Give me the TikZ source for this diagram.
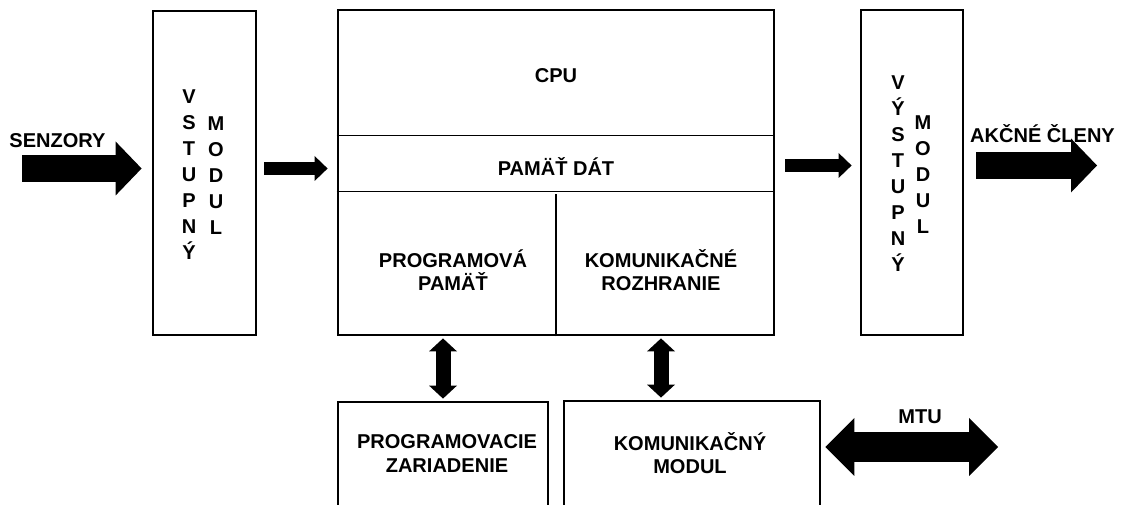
\documentclass[tikz,border=0pt]{standalone}
\usepackage{fontspec}
\setmainfont{Liberation Sans}
\usetikzlibrary{arrows.meta}

\tikzset{
  blok/.style={draw, line width=1.6pt, inner sep=0pt},
  popis/.style={font=\bfseries\fontsize{11.4}{13.1}\selectfont, align=center, inner sep=0pt},
  stlpec/.style={font=\bfseries\fontsize{11.4}{14.8}\selectfont, align=center, inner sep=0pt},
  tenka/.style={line width=0.6pt},
  velka/.style={line width=5.3mm, -{Triangle[length=5.2mm, width=10.8mm, line width=0pt]}},
  mala/.style={line width=2.6mm, -{Triangle[length=2.6mm, width=5mm, line width=0pt]}},
  obojsmerna/.style={line width=3mm, {Triangle[length=2.6mm, width=5.6mm, line width=0pt]}-{Triangle[length=2.6mm, width=5.6mm, line width=0pt]}},
  siroka/.style={line width=6mm, {Triangle[length=5.8mm, width=11.6mm, line width=0pt]}-{Triangle[length=5.8mm, width=11.6mm, line width=0pt]}}
}

\begin{document}
\begin{tikzpicture}
  \useasboundingbox (0, 0) rectangle (22.5, 10.08);
  \node[blok, minimum width=2.06cm, minimum height=6.48cm] (vstup) at (4.09, 6.62) {};
  \node[blok, minimum width=8.72cm, minimum height=6.5cm] (cpu) at (11.12, 6.63) {};
  \node[blok, minimum width=2.04cm, minimum height=6.5cm] (vystup) at (18.24, 6.63) {};
  \node[blok, minimum width=4.2cm, minimum height=2.6cm] (prog) at (8.86, 0.74) {};
  \node[blok, minimum width=5.12cm, minimum height=2.6cm] (kom) at (13.84, 0.76) {};
  \draw[tenka] ([yshift=-2.54cm]cpu.north west) -- ([yshift=-2.54cm]cpu.north east);
  \draw[tenka] ([yshift=-3.66cm]cpu.north west) -- ([yshift=-3.66cm]cpu.north east);
  \draw[tenka] (cpu.south) -- ([yshift=2.84cm]cpu.south);

  \node[stlpec] (vstup1) at (3.78, 6.58) {V\\S\\T\\U\\P\\N\\Ý};
  \node[stlpec] (vstup2) at (4.32, 6.56) {M\\O\\D\\U\\L};
  \node[stlpec] (vystup1) at (17.96, 6.6) {V\\Ý\\S\\T\\U\\P\\N\\Ý};
  \node[stlpec] (vystup2) at (18.46, 6.59) {M\\O\\D\\U\\L};
  \node[popis] (tcpu) at (11.12, 8.56) {CPU};
  \node[popis] (pamat) at (11.12, 6.75) {PAMÄŤ DÁT};
  \node[popis] (programova) at (9.06, 4.68) {PROGRAMOVÁ\\PAMÄŤ};
  \node[popis] (rozhranie) at (13.22, 4.68) {KOMUNIKAČNÉ\\ROZHRANIE};
  \node[popis] (tprog) at (8.94, 1.01) {PROGRAMOVACIE\\ZARIADENIE};
  \node[popis] (tkom) at (13.8, 1.01) {KOMUNIKAČNÝ\\MODUL};

  \coordinate (zaciatok) at (0.44, 6.71);
  \coordinate (koniec) at (21.94, 6.77);
  \coordinate (linka) at (19.96, 1.14);

  \draw[velka, shorten >=2mm] (zaciatok) -- (vstup.west |- zaciatok);
  \draw[mala, shorten <=1.4mm, shorten >=1.8mm] (vstup.east |- zaciatok) -- (cpu.west |- zaciatok);
  \draw[mala, shorten <=2mm, shorten >=1.6mm] (cpu.east |- koniec) -- (vystup.west |- koniec);
  \draw[velka, shorten <=2.4mm] (vystup.east |- koniec) -- (koniec);
  \draw[obojsmerna, shorten <=0.4mm, shorten >=0.4mm] (prog.north |- cpu.south) -- (prog.north);
  \draw[obojsmerna, shorten <=0.4mm, shorten >=0.4mm] (rozhranie |- cpu.south) -- (rozhranie |- kom.north);
  \draw[siroka, shorten <=0.8mm] (kom.east |- linka) -- (linka);

  \node[popis] (senzory) at (1.15, 7.26) {SENZORY};
  \node[popis] (akcne) at (20.85, 7.4) {AKČNÉ ČLENY};
  \node[popis] (mtu) at (18.4, 1.74) {MTU};
\end{tikzpicture}
\end{document}
